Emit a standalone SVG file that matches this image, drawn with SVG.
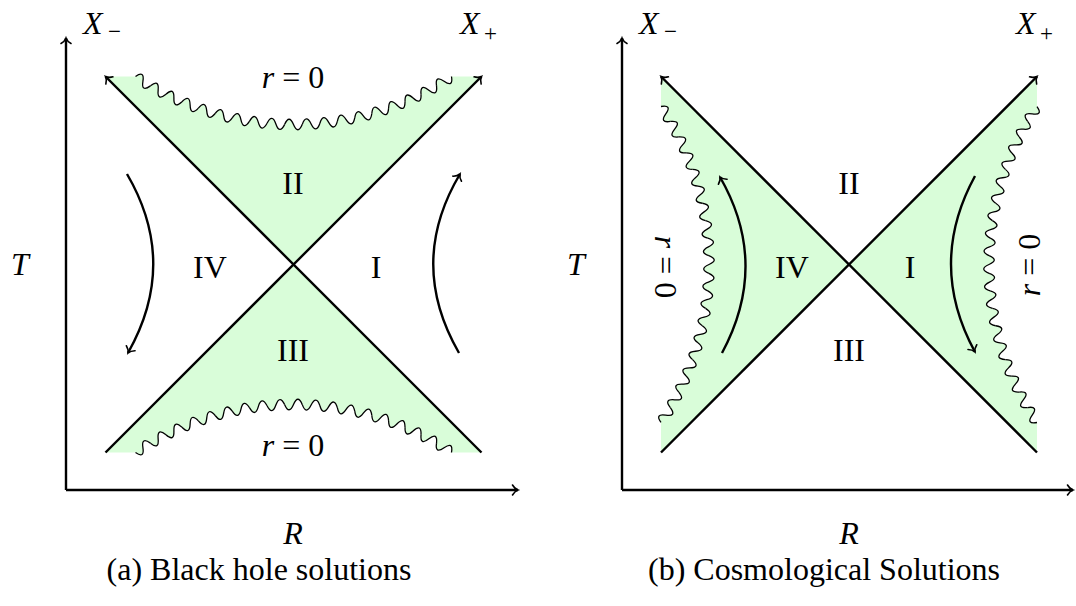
<svg xmlns="http://www.w3.org/2000/svg" xmlns:xlink="http://www.w3.org/1999/xlink" width="1076" height="606" viewBox="0 0 1076 606">
<style>
.t{font-family:"Liberation Serif","DejaVu Serif",serif;font-size:32px;fill:#000}
.i{font-style:italic}
.sub{font-size:23px}
.gr{fill:#d9fdd9}
.wh{fill:#fff}
.ln{fill:none;stroke:#000;stroke-width:2.4}
.wv{fill:none;stroke:#000;stroke-width:1.3}
</style>
<defs>
<marker id="ar" markerUnits="userSpaceOnUse" markerWidth="1" markerHeight="1" refX="0" refY="0" orient="auto" overflow="visible">
<path d="M-5.5,-5 C-4.2,-2.6 -1.8,-0.7 0,0 C-1.8,0.7 -4.2,2.6 -5.5,5" fill="none" stroke="#000" stroke-width="1.6" stroke-linecap="round"/>
</marker>
<path id="reg" class="gr" d="M-188,-188 L-158,-188 A284,284 0 0 0 158,-188 L188,-188 L0,0 Z"/>
<g id="pf">
<path class="gr" d="M-8.816,-140.137 C-5.88,-147 -2.94,-147 0,-140 L0,-139 L-8.816,-139.1 Z"/>
<path class="wh" d="M0,-140 C2.94,-133 5.88,-133 8.816,-140.137 L8.816,-141.1 L0,-141 Z"/>
</g>
<path id="ps" d="M-8.816,-140.137 C-5.88,-147 -2.94,-147 0,-140 C2.94,-133 5.88,-133 8.816,-140.137"/>
<g id="fills">
<use href="#pf" transform="rotate(-32.021 0 -424)"/>
<use href="#pf" transform="rotate(-28.463 0 -424)"/>
<use href="#pf" transform="rotate(-24.905 0 -424)"/>
<use href="#pf" transform="rotate(-21.347 0 -424)"/>
<use href="#pf" transform="rotate(-17.789 0 -424)"/>
<use href="#pf" transform="rotate(-14.232 0 -424)"/>
<use href="#pf" transform="rotate(-10.674 0 -424)"/>
<use href="#pf" transform="rotate(-7.116 0 -424)"/>
<use href="#pf" transform="rotate(-3.558 0 -424)"/>
<use href="#pf"/>
<use href="#pf" transform="rotate(3.558 0 -424)"/>
<use href="#pf" transform="rotate(7.116 0 -424)"/>
<use href="#pf" transform="rotate(10.674 0 -424)"/>
<use href="#pf" transform="rotate(14.232 0 -424)"/>
<use href="#pf" transform="rotate(17.789 0 -424)"/>
<use href="#pf" transform="rotate(21.347 0 -424)"/>
<use href="#pf" transform="rotate(24.905 0 -424)"/>
<use href="#pf" transform="rotate(28.463 0 -424)"/>
<use href="#pf" transform="rotate(32.021 0 -424)"/>
</g>
<g id="strokes" class="wv">
<use href="#ps" transform="rotate(-32.021 0 -424)"/>
<use href="#ps" transform="rotate(-28.463 0 -424)"/>
<use href="#ps" transform="rotate(-24.905 0 -424)"/>
<use href="#ps" transform="rotate(-21.347 0 -424)"/>
<use href="#ps" transform="rotate(-17.789 0 -424)"/>
<use href="#ps" transform="rotate(-14.232 0 -424)"/>
<use href="#ps" transform="rotate(-10.674 0 -424)"/>
<use href="#ps" transform="rotate(-7.116 0 -424)"/>
<use href="#ps" transform="rotate(-3.558 0 -424)"/>
<use href="#ps"/>
<use href="#ps" transform="rotate(3.558 0 -424)"/>
<use href="#ps" transform="rotate(7.116 0 -424)"/>
<use href="#ps" transform="rotate(10.674 0 -424)"/>
<use href="#ps" transform="rotate(14.232 0 -424)"/>
<use href="#ps" transform="rotate(17.789 0 -424)"/>
<use href="#ps" transform="rotate(21.347 0 -424)"/>
<use href="#ps" transform="rotate(24.905 0 -424)"/>
<use href="#ps" transform="rotate(28.463 0 -424)"/>
<use href="#ps" transform="rotate(32.021 0 -424)"/>
</g>
</defs>
<rect width="1076" height="606" fill="#fff"/>

<g id="shading">
<g id="bh-top-fill" transform="translate(293.5,264.5)"><use href="#reg"/><use href="#fills"/></g>
<g id="bh-bottom-fill" transform="translate(293.5,264.5) scale(1,-1)"><use href="#reg"/><use href="#fills"/></g>
<g id="cos-left-fill" transform="translate(849,264.5) rotate(-90)"><use href="#reg"/><use href="#fills"/></g>
<g id="cos-right-fill" transform="translate(849,264.5) rotate(90)"><use href="#reg"/><use href="#fills"/></g>
</g>

<g id="connectors" class="ln">
<path d="M66,490 L66,38" marker-end="url(#ar)"/>
<path d="M66,490 L518,490" marker-end="url(#ar)"/>
<path d="M105.5,452.5 L481.5,76.5" marker-end="url(#ar)"/>
<path d="M481.5,452.5 L105.5,76.5" marker-end="url(#ar)"/>
<path d="M127,174 Q179,263 128,353" marker-end="url(#ar)"/>
<path d="M459,353 Q407,263 460,174" marker-end="url(#ar)"/>
<path d="M622,490 L622,38" marker-end="url(#ar)"/>
<path d="M622,490 L1073,490" marker-end="url(#ar)"/>
<path d="M661,452.5 L1037,76.5" marker-end="url(#ar)"/>
<path d="M1037,452.5 L661,76.5" marker-end="url(#ar)"/>
<path d="M722,353 Q770,264 720,177" marker-end="url(#ar)"/>
<path d="M975,176 Q927,264 975,352" marker-end="url(#ar)"/>
</g>

<g id="singularities">
<g id="bh-top-wave" transform="translate(293.5,264.5)"><use href="#strokes"/></g>
<g id="bh-bottom-wave" transform="translate(293.5,264.5) scale(1,-1)"><use href="#strokes"/></g>
<g id="cos-left-wave" transform="translate(849,264.5) rotate(-90)"><use href="#strokes"/></g>
<g id="cos-right-wave" transform="translate(849,264.5) rotate(90)"><use href="#strokes"/></g>
</g>

<g id="labels-a" class="t">
<g id="a-xminus"><text x="83" y="34" class="i">X</text><text x="108" y="39" class="sub">−</text></g>
<g id="a-xplus"><text x="460" y="34" class="i">X</text><text x="484" y="41" class="sub">+</text></g>
<text id="a-T" x="20" y="275" text-anchor="middle" class="i">T</text>
<text id="a-R" x="293" y="544" text-anchor="middle" class="i">R</text>
<text id="a-r0-top" x="293" y="88" text-anchor="middle"><tspan class="i">r</tspan> = 0</text>
<text id="a-r0-bot" x="293" y="456" text-anchor="middle"><tspan class="i">r</tspan> = 0</text>
<text id="a-II" x="293" y="194" text-anchor="middle">II</text>
<text id="a-IV" x="210" y="278" text-anchor="middle">IV</text>
<text id="a-I" x="376" y="278" text-anchor="middle">I</text>
<text id="a-III" x="293" y="361" text-anchor="middle">III</text>
<text id="a-cap" x="259" y="580" text-anchor="middle">(a) Black hole solutions</text>
</g>

<g id="labels-b" class="t">
<g id="b-xminus"><text x="639" y="34" class="i">X</text><text x="664" y="39" class="sub">−</text></g>
<g id="b-xplus"><text x="1016" y="34" class="i">X</text><text x="1040" y="41" class="sub">+</text></g>
<text id="b-T" x="576" y="275" text-anchor="middle" class="i">T</text>
<text id="b-R" x="849" y="544" text-anchor="middle" class="i">R</text>
<text id="b-r0-left" transform="translate(655,267) rotate(90)" text-anchor="middle"><tspan class="i">r</tspan> = 0</text>
<text id="b-r0-right" transform="translate(1040,265) rotate(-90)" text-anchor="middle"><tspan class="i">r</tspan> = 0</text>
<text id="b-II" x="849" y="194" text-anchor="middle">II</text>
<text id="b-IV" x="792" y="278" text-anchor="middle">IV</text>
<text id="b-I" x="910" y="278" text-anchor="middle">I</text>
<text id="b-III" x="849" y="361" text-anchor="middle">III</text>
<text id="b-cap" x="824" y="580" text-anchor="middle">(b) Cosmological Solutions</text>
</g>
</svg>
